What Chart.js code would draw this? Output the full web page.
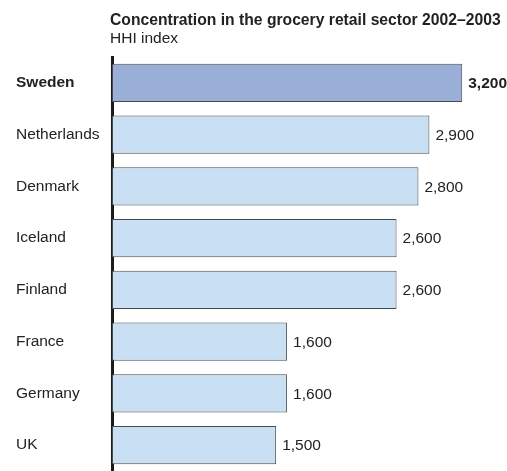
<!DOCTYPE html>
<html>
<head>
<meta charset="utf-8">
<script src="https://cdn.jsdelivr.net/npm/chart.js@4/dist/chart.umd.min.js"></script>
<style>
  html, body { margin: 0; padding: 0; background: #fff; overflow: hidden; }
  #wrap { position: relative; width: 507px; height: 471px; }
  #heading {
    position: absolute; left: 110px; top: 11px;
    font-family: "Liberation Sans", Arial, sans-serif; font-size: 15.5px; line-height: 18px; color: #222;
  }
  #heading b { display: block; font-size: 15.7px; }
  canvas { position: absolute; left: 0; top: 0; }
</style>
</head>
<body>
<div id="wrap">
  <canvas id="canvas" width="507" height="471"></canvas>
  <div id="heading"><b>Concentration in the grocery retail sector 2002–2003</b>HHI index</div>
</div>
<script>
// HHI per country, 2002-2003
const countries = ['Sweden', 'Netherlands', 'Denmark', 'Iceland', 'Finland', 'France', 'Germany', 'UK']
const hhi = [3200, 2900, 2800, 2600, 2600, 1600, 1600, 1500]
const highlighted = ['Sweden']

const fontFamily = '"Liberation Sans", Arial, sans-serif'
const fontSize = 15.5

function isHighlighted(i) {
    return highlighted.indexOf(countries[i]) !== -1
}

// writes the value just to the right of each bar
const valueLabels = {
    id: 'valueLabels',
    afterDatasetsDraw(chart) {
        const ctx = chart.ctx
        const meta = chart.getDatasetMeta(0)
        ctx.save()
        ctx.fillStyle = '#222'
        ctx.textBaseline = 'middle'
        ctx.textAlign = 'left'
        meta.data.forEach(function(bar, i) {
            ctx.font = (isHighlighted(i) ? 'bold ' : '') + fontSize + 'px ' + fontFamily
            ctx.fillText(hhi[i].toLocaleString('en-US'), bar.x + 6, bar.y + 1)
        })
        ctx.restore()
    }
}

const canvas = document.getElementById('canvas')
const myChart = new Chart(canvas.getContext('2d'), {
    type: 'bar',
    data: {
        labels: countries,
        datasets: [{
            data: hhi,
            backgroundColor: countries.map((c, i) => isHighlighted(i) ? '#9aafd8' : '#c9dff3'),
            borderColor: '#4a4a4a',
            borderWidth: 1,
            borderSkipped: false,
            categoryPercentage: 1,
            barPercentage: 0.735
        }]
    },
    options: {
        indexAxis: 'y',
        responsive: false,
        animation: false,
        devicePixelRatio: 1,
        layout: { padding: { top: 57, left: 16, right: 1, bottom: 0 } },
        plugins: {
            legend: { display: false },
            tooltip: { enabled: false }
        },
        scales: {
            x: {
                display: false,
                min: 0,
                max: 3600
            },
            y: {
                grid: { display: true, drawOnChartArea: false, drawTicks: false },
                border: { display: true, color: '#1a1a1a', width: 3 },
                // fixed axis width, and no extra room for the end labels so the axis runs to the bottom
                afterFit: function(scale) {
                    scale.width = 96
                    scale.paddingTop = 0
                    scale.paddingBottom = 0
                },
                ticks: {
                    crossAlign: 'far',
                    color: '#222',
                    font: function(c) {
                        return { family: fontFamily, size: fontSize, weight: isHighlighted(c.index) ? 'bold' : 'normal' }
                    }
                }
            }
        }
    },
    plugins: [valueLabels]
})
</script>
</body>
</html>
